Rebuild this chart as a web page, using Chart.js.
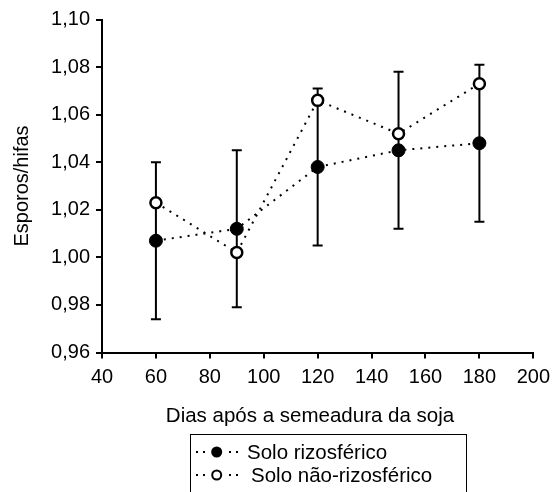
<!DOCTYPE html>
<html>
<head>
<meta charset="utf-8">
<script src="https://cdn.jsdelivr.net/npm/chart.js@4.4.1/dist/chart.umd.min.js"></script>
<style>
html,body{margin:0;padding:0;background:#fff;}
#wrap{position:relative;width:557px;height:492px;}
</style>
</head>
<body>
<div id="wrap"><canvas id="c" width="557" height="492"></canvas></div>
<script>
// ---- data ----
const days = [60, 90, 120, 150, 180];
const soloRizosferico = [1.007, 1.012, 1.038, 1.045, 1.048];
const soloNaoRizosferico = [1.023, 1.002, 1.066, 1.052, 1.073];
const erroRizosferico = [0.033, 0.033, 0.033, 0.033, 0.033];
const seriesLabels = ['Solo rizosférico', 'Solo não-rizosférico'];
const xTitle = 'Dias após a semeadura da soja';
const yTitle = 'Esporos/hifas';

const FONT = "'Liberation Sans', Arial, Helvetica, sans-serif";
Chart.defaults.font.family = FONT;
Chart.defaults.font.size = 20;
Chart.defaults.color = '#000';

const errorBars = {
  id: 'errorBars',
  beforeDatasetsDraw(chart) {
    const {ctx, scales: {x, y}} = chart;
    ctx.save();
    ctx.strokeStyle = '#000';
    ctx.lineWidth = 2;
    days.forEach((d, i) => {
      const px = x.getPixelForValue(d);
      const top = y.getPixelForValue(soloRizosferico[i] + erroRizosferico[i]);
      const bot = y.getPixelForValue(soloRizosferico[i] - erroRizosferico[i]);
      ctx.beginPath();
      ctx.moveTo(px, top); ctx.lineTo(px, bot);
      ctx.moveTo(px - 5, top); ctx.lineTo(px + 5, top);
      ctx.moveTo(px - 5, bot); ctx.lineTo(px + 5, bot);
      ctx.stroke();
    });
    ctx.restore();
  }
};

const boxLegend = {
  id: 'boxLegend',
  afterDraw(chart) {
    const {ctx} = chart;
    ctx.save();
    // x axis title
    ctx.fillStyle = '#000';
    ctx.font = '20.5px ' + FONT;
    ctx.textAlign = 'center';
    ctx.textBaseline = 'middle';
    ctx.fillText(xTitle, 310, 416);
    // legend box
    ctx.strokeStyle = '#000';
    ctx.lineWidth = 1;
    ctx.strokeRect(190.5, 434.5, 276, 80);
    const rows = [452, 475];
    const textX = [247, 251];
    chart.data.datasets.forEach((ds, i) => {
      const cy = rows[i];
      ctx.fillStyle = '#000';
      [197, 204, 230, 237].forEach(dx => ctx.fillRect(dx - 1, cy - 1, 2, 2));
      ctx.beginPath();
      ctx.arc(216.7, cy, i === 0 ? 5.5 : 4.5, 0, Math.PI * 2);
      ctx.fillStyle = ds.pointBackgroundColor;
      ctx.fill();
      if (i === 1) { ctx.lineWidth = 2; ctx.stroke(); }
      ctx.fillStyle = '#000';
      ctx.font = '20.5px ' + FONT;
      ctx.textBaseline = 'middle';
      ctx.textAlign = 'left';
      ctx.fillText(ds.label, textX[i], cy + 1);
    });
    ctx.restore();
  }
};

new Chart(document.getElementById('c'), {
  type: 'line',
  data: {
    datasets: [
      {
        label: seriesLabels[0],
        data: days.map((d, i) => ({x: d, y: soloRizosferico[i]})),
        borderColor: '#000', borderWidth: 2, borderDash: [2, 6],
        pointRadius: 6.5, pointBackgroundColor: '#000', pointBorderColor: '#000', pointBorderWidth: 1,
        fill: false, tension: 0
      },
      {
        label: seriesLabels[1],
        data: days.map((d, i) => ({x: d, y: soloNaoRizosferico[i]})),
        borderColor: '#000', borderWidth: 2, borderDash: [2, 6],
        pointRadius: 5.5, pointBackgroundColor: '#fff', pointBorderColor: '#000', pointBorderWidth: 2.5,
        fill: false, tension: 0
      }
    ]
  },
  options: {
    responsive: false,
    animation: false,
    events: [],
    layout: {padding: {left: 0, top: 19.5, right: 23, bottom: 62}},
    plugins: {legend: {display: false}, tooltip: {enabled: false}},
    scales: {
      x: {
        type: 'linear', min: 40, max: 200,
        ticks: {stepSize: 20, padding: 7, color: '#000'},
        grid: {display: true, drawOnChartArea: false, drawTicks: true, tickLength: 6, color: '#000', lineWidth: 2},
        border: {display: true, color: '#000', width: 2},
        title: {display: false},
        afterFit(s) { s.height = 77.5; }
      },
      y: {
        type: 'linear', min: 0.96, max: 1.10,
        ticks: {stepSize: 0.02, padding: 6, color: '#000',
          callback: v => v.toFixed(2).replace('.', ',')},
        grid: {display: true, drawOnChartArea: false, drawTicks: true, tickLength: 6, color: '#000', lineWidth: 2},
        border: {display: true, color: '#000', width: 2},
        title: {display: true, text: yTitle, color: '#000', padding: {top: 10, bottom: 0}},
        afterFit(s) { s.width = 102; }
      }
    }
  },
  plugins: [errorBars, boxLegend]
});
</script>
</body>
</html>
